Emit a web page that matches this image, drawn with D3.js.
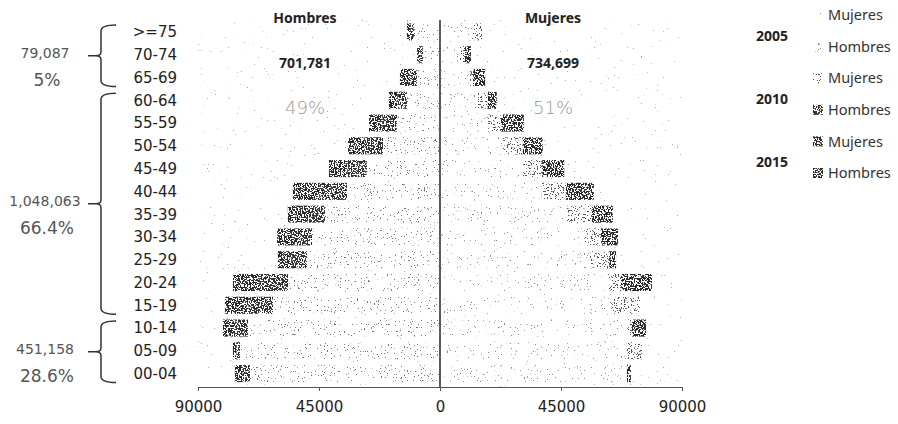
<!DOCTYPE html>
<html lang="es">
<head>
<meta charset="UTF-8">
<title>Pirámide de población 2005-2015</title>
<script src="https://d3js.org/d3.v7.min.js"></script>
<style>
    body { margin: 0; background: white; }
    svg { display: block; }
    .cat { font-family: "DejaVu Sans", sans-serif; font-size: 15px; fill: #222; }
    .tick text { font-family: "DejaVu Sans", sans-serif; font-size: 15px; fill: #222; }
    .head { font-family: "Noto Sans", sans-serif; font-size: 14px; font-weight: bold; fill: #222; }
    .pct { font-family: "DejaVu Sans", sans-serif; font-weight: 200; fill: #999; font-size: 18px; }
    .grp { font-family: "DejaVu Sans", sans-serif; fill: #555; }
    .leg { font-family: "Noto Sans", sans-serif; font-size: 14.5px; fill: #333; }
    .year { font-family: "Noto Sans", sans-serif; font-size: 14px; font-weight: bold; fill: #222; }
</style>
</head>
<body>
<svg width="898" height="424"></svg>
<script>
// age groups, top to bottom
const ageGroups = [">=75", "70-74", "65-69", "60-64", "55-59", "50-54", "45-49", "40-44",
    "35-39", "30-34", "25-29", "20-24", "15-19", "10-14", "05-09", "00-04"];

// stacked segments (people)
const hombres2005 = [9700, 6300, 8600, 12300, 16000, 21200, 27200, 34600, 42800, 47600, 49500, 56500, 62100, 71400, 74400, 70700];
const hombres2010 = [1400, 1100, 3300, 3500, 5300, 6800, 7200, 10300, 7000, 6700, 5600, 10500, 9200, 4800, 1300, 2900];
const hombres2015 = [1200, 1100, 3000, 3200, 5100, 6200, 6900, 9800, 6800, 6300, 5200, 10000, 8700, 4500, 1300, 2700];
const mujeres2005 = [11900, 7400, 11200, 14100, 17900, 23400, 30900, 37900, 47200, 53900, 55800, 62500, 64000, 69900, 69500, 69500];
const mujeres2010 = [3700, 1900, 1100, 3700, 4800, 7400, 7100, 8900, 9300, 6000, 7100, 4800, 10400, 1500, 5600, 0];
const mujeres2015 = [0, 2200, 4500, 3300, 8500, 7400, 8200, 10400, 7800, 6300, 2600, 11500, 0, 5200, 0, 1500];

const xTicks = [-90000, -45000, 0, 45000, 90000];

const sideTitles = ["Hombres", "Mujeres"];
const sideTotals = ["701,781", "734,699"];
const sidePct = ["49%", "51%"];

// bracket groups: first and last age group, total, share
const groupFirst = [">=75", "60-64", "10-14"];
const groupLast = ["65-69", "15-19", "00-04"];
const groupTotals = ["79,087", "1,048,063", "451,158"];
const groupPct = ["5%", "66.4%", "28.6%"];

const legendYears = ["2005", "2010", "2015"];
const legendSeries = ["Mujeres", "Hombres"];

const svg = d3.select("svg");

// speckle filters, to imitate the scanned fill patterns
const defs = svg.append("defs");
function speckle(id, threshold, seed, freq) {
    const f = defs.append("filter").attr("id", id)
        .attr("x", 0).attr("y", 0).attr("width", 1).attr("height", 1);
    f.append("feTurbulence").attr("type", "fractalNoise")
        .attr("baseFrequency", freq).attr("numOctaves", 2).attr("seed", seed).attr("result", "n");
    f.append("feColorMatrix").attr("in", "n").attr("type", "matrix")
        .attr("values", `0 0 0 0 0  0 0 0 0 0  0 0 0 0 0  40 0 0 0 ${-40 * threshold}`)
        .attr("result", "m");
    f.append("feComposite").attr("in", "SourceGraphic").attr("in2", "m").attr("operator", "in");
}
speckle("dense", 0.47, 3, 0.7);
speckle("medium", 0.61, 5, 0.7);
speckle("faintH", 0.685, 7, 0.7);
speckle("faintM", 0.72, 9, 0.7);
speckle("bgNoise", 0.78, 11, 0.7);

const series = [
    { key: "h2005", side: -1, values: hombres2005, color: "#777", filter: "faintH" },
    { key: "h2010", side: -1, values: hombres2010, color: "#333", filter: "dense" },
    { key: "h2015", side: -1, values: hombres2015, color: "#2a2a2a", filter: "dense" },
    { key: "m2005", side: 1, values: mujeres2005, color: "#888", filter: "faintM" },
    { key: "m2010", side: 1, values: mujeres2010, color: "#555", filter: "medium" },
    { key: "m2015", side: 1, values: mujeres2015, color: "#2a2a2a", filter: "dense" }
];

const x = d3.scaleLinear().domain([-90000, 90000]).range([198, 682]);
const y = d3.scaleBand().domain(ageGroups).range([20.5, 385]).paddingInner(0.25).paddingOuter(0.125);
const axisY = 387;

// scattered scan noise over the plot
svg.append("rect")
    .attr("x", x(-90000)).attr("y", 20).attr("width", x(90000) - x(-90000)).attr("height", axisY - 20)
    .attr("fill", "#aaa").attr("filter", "url(#bgNoise)");

// stacked bars, each side grows outward from zero
const barData = [];
ageGroups.forEach((g, i) => {
    let accH = 0, accM = 0;
    series.forEach(s => {
        const v = s.values[i];
        if (s.side < 0) {
            barData.push({ g, s, x0: -(accH + v), x1: -accH });
            accH += v;
        } else {
            barData.push({ g, s, x0: accM, x1: accM + v });
            accM += v;
        }
    });
});

svg.append("g").selectAll("rect")
    .data(barData.filter(d => d.x1 > d.x0))
    .enter().append("rect")
    .attr("x", d => x(d.x0))
    .attr("width", d => x(d.x1) - x(d.x0))
    .attr("y", d => y(d.g))
    .attr("height", y.bandwidth())
    .attr("fill", d => d.s.color)
    .attr("filter", d => `url(#${d.s.filter})`);

// center line
svg.append("line")
    .attr("x1", x(0)).attr("x2", x(0)).attr("y1", 20).attr("y2", axisY)
    .attr("stroke", "#333").attr("stroke-width", 1.6);

// x axis
const xAxis = svg.append("g")
    .attr("transform", `translate(0,${axisY})`)
    .call(d3.axisBottom(x).tickValues(xTicks).tickFormat(d => Math.abs(d)).tickSize(4).tickPadding(10));
xAxis.select(".domain").attr("stroke", "#555");
xAxis.selectAll(".tick line").attr("stroke", "#555");

// age labels
svg.append("g").selectAll("text")
    .data(ageGroups)
    .enter().append("text")
    .attr("class", "cat")
    .attr("x", 177)
    .attr("y", d => y(d) + y.bandwidth() / 2)
    .attr("dy", "0.36em")
    .attr("text-anchor", "end")
    .text(d => d);

// side headings and totals
const sideX = [305, 553];
sideTitles.forEach((t, i) => {
    svg.append("text").attr("class", "head").attr("x", sideX[i]).attr("y", 23)
        .attr("text-anchor", "middle").text(t);
    svg.append("text").attr("class", "head").attr("x", sideX[i]).attr("y", 68)
        .attr("text-anchor", "middle").text(sideTotals[i]);
    svg.append("text").attr("class", "pct").attr("x", sideX[i]).attr("y", 114)
        .attr("text-anchor", "middle").text(sidePct[i]);
});

// brackets on the left
const bx = 101;
groupFirst.forEach((first, i) => {
    const top = y(first) + y.bandwidth() / 2 - 7;
    const bot = y(groupLast[i]) + y.bandwidth() / 2 + 9;
    const mid = (top + bot) / 2;
    const path = `M116,${top} Q${bx},${top} ${bx},${top + 6} L${bx},${mid - 4} Q${bx},${mid} ${bx - 5},${mid} L88,${mid}` +
        ` M${bx - 5},${mid} Q${bx},${mid} ${bx},${mid + 4} L${bx},${bot - 6} Q${bx},${bot} 116,${bot}`;
    svg.append("path").attr("d", path).attr("fill", "none")
        .attr("stroke", "#333").attr("stroke-width", 1.5);
    svg.append("text").attr("class", "grp").attr("x", 45).attr("y", mid - 3)
        .attr("dy", "0.36em").attr("text-anchor", "middle").style("font-size", "14px")
        .text(groupTotals[i]);
    svg.append("text").attr("class", "grp").attr("x", 47).attr("y", mid + 24)
        .attr("dy", "0.36em").attr("text-anchor", "middle").style("font-size", "17px")
        .text(groupPct[i]);
});

// legend
const legendOrder = [
    { label: legendSeries[0], s: series[3] },
    { label: legendSeries[1], s: series[0] },
    { label: legendSeries[0], s: series[4] },
    { label: legendSeries[1], s: series[1] },
    { label: legendSeries[0], s: series[5] },
    { label: legendSeries[1], s: series[2] }
];
const legend = svg.append("g");
legendOrder.forEach((d, i) => {
    const ly = 15 + i * 31.6;
    legend.append("rect").attr("x", 813).attr("y", ly - 5).attr("width", 10).attr("height", 10)
        .attr("fill", d.s.color).attr("filter", `url(#${d.s.filter})`);
    legend.append("text").attr("class", "leg").attr("x", 828).attr("y", ly).attr("dy", "0.36em").text(d.label);
});
legendYears.forEach((yr, i) => {
    const ly = 15 + (2 * i + 0.5) * 31.6 + 5;
    legend.append("text").attr("class", "year").attr("x", 772).attr("y", ly)
        .attr("dy", "0.36em").attr("text-anchor", "middle").text(yr);
});
</script>
</body>
</html>
